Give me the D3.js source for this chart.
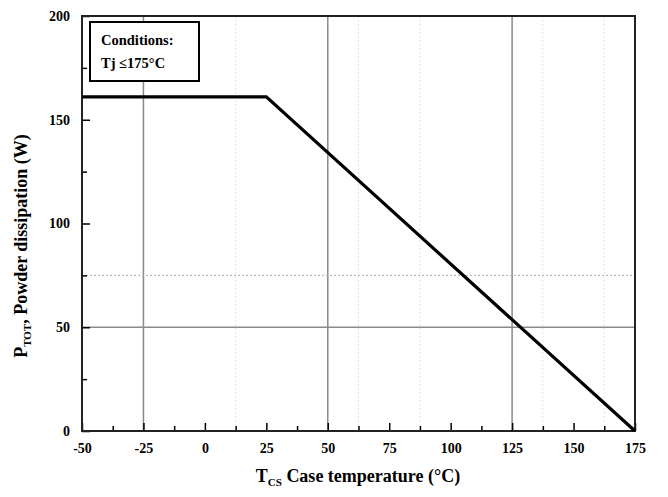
<!DOCTYPE html>
<html><head><meta charset="utf-8">
<script src="https://cdn.jsdelivr.net/npm/d3@7"></script>
<style>body{margin:0;background:#fff}</style>
</head><body>
<svg id="c" width="668" height="497"></svg>
<script>
const tempC = [-50, 25, 175];
const powerW = [161, 161, 0];
const xTicks = [-50, -25, 0, 25, 50, 75, 100, 125, 150, 175];
const yTicks = [0, 50, 100, 150, 200];
const xGridSolid = [-25, 50, 125];
const xGridFaint = [12.5, 62.5, 87.5, 137.5, 162.5];
const yGridSolid = [50];
const yGridDotted = [75];
const legendLines = ["Conditions:", "Tj \u2264175\u00B0C"];

const svg = d3.select("#c");
const m = {l:82, r:635, t:16, b:431};
const x = d3.scaleLinear().domain([-50,175]).range([m.l, m.r]);
const y = d3.scaleLinear().domain([0,200]).range([m.b, m.t]);
const font = "'Liberation Serif','Times New Roman',serif";

const g = svg.append("g");
g.selectAll(".xf").data(xGridFaint).join("line")
 .attr("x1",d=>x(d)).attr("x2",d=>x(d)).attr("y1",m.t).attr("y2",m.b)
 .attr("stroke","#e4e4e4").attr("stroke-width",1).attr("stroke-dasharray","2,2");
g.selectAll(".xs").data(xGridSolid).join("line")
 .attr("x1",d=>x(d)).attr("x2",d=>x(d)).attr("y1",m.t).attr("y2",m.b)
 .attr("stroke","#8a8a8a").attr("stroke-width",1.5);
g.selectAll(".ys").data(yGridSolid).join("line")
 .attr("y1",d=>y(d)).attr("y2",d=>y(d)).attr("x1",m.l).attr("x2",m.r)
 .attr("stroke","#8a8a8a").attr("stroke-width",1.5);
g.selectAll(".yd").data(yGridDotted).join("line")
 .attr("y1",d=>y(d)).attr("y2",d=>y(d)).attr("x1",m.l).attr("x2",m.r)
 .attr("stroke","#b0b0b0").attr("stroke-width",1).attr("stroke-dasharray","2,2");

const fmt = d => String(d);
const xAxis = d3.axisBottom(x).tickValues(xTicks).tickSize(-8).tickPadding(12).tickFormat(fmt);
const xMinor = d3.axisBottom(x).tickValues(xTicks.slice(0,-1).map(d=>d+12.5)).tickSize(-5).tickFormat("");
const yAxis = d3.axisLeft(y).tickValues(yTicks).tickSize(-8).tickPadding(12).tickFormat(fmt);
const yMinor = d3.axisLeft(y).tickValues([25,75,125,175]).tickSize(-5).tickFormat("");

function style(sel){
  sel.select(".domain").remove();
  sel.selectAll("line").attr("stroke","#000").attr("stroke-width",1.5);
  sel.selectAll("text").attr("font-family",font).attr("font-weight","bold").attr("font-size",14).attr("fill","#000");
}
svg.append("g").attr("transform",`translate(0,${m.b})`).call(xAxis).call(style);
svg.append("g").attr("transform",`translate(0,${m.b})`).call(xMinor).call(style);
svg.append("g").attr("transform",`translate(${m.l},0)`).call(yAxis).call(style);
svg.append("g").attr("transform",`translate(${m.l},0)`).call(yMinor).call(style);

svg.append("rect").attr("x",m.l).attr("y",m.t).attr("width",m.r-m.l).attr("height",m.b-m.t)
 .attr("fill","none").attr("stroke","#222").attr("stroke-width",2);

const line = d3.line().x(d=>x(d[0])).y(d=>y(d[1]));
svg.append("path").datum(tempC.map((t,i)=>[t,powerW[i]]))
 .attr("d",line).attr("fill","none").attr("stroke","#000").attr("stroke-width",3.2);

svg.append("rect").attr("x",90).attr("y",22).attr("width",109).attr("height",59)
 .attr("fill","#fff").attr("stroke","#000").attr("stroke-width",2);
svg.selectAll(".lg").data(legendLines).join("text")
 .attr("x",101).attr("y",(d,i)=>45+i*23)
 .attr("font-family",font).attr("font-weight","bold").attr("font-size",14.5).text(d=>d);

const xt = svg.append("text").attr("x",358).attr("y",482).attr("text-anchor","middle")
 .attr("font-family",font).attr("font-weight","bold").attr("font-size",18);
xt.append("tspan").text("T");
xt.append("tspan").attr("font-size",11).attr("dy",4).text("CS");
xt.append("tspan").attr("dy",-4).text(" Case temperature (\u00B0C)");

const yt = svg.append("text").attr("transform","translate(27,246) rotate(-90)").attr("text-anchor","middle")
 .attr("font-family",font).attr("font-weight","bold").attr("font-size",18);
yt.append("tspan").text("P");
yt.append("tspan").attr("font-size",11).attr("dy",4).text("TOT");
yt.append("tspan").attr("dy",-4).text(", Powder dissipation (W)");
</script>
</body></html>
